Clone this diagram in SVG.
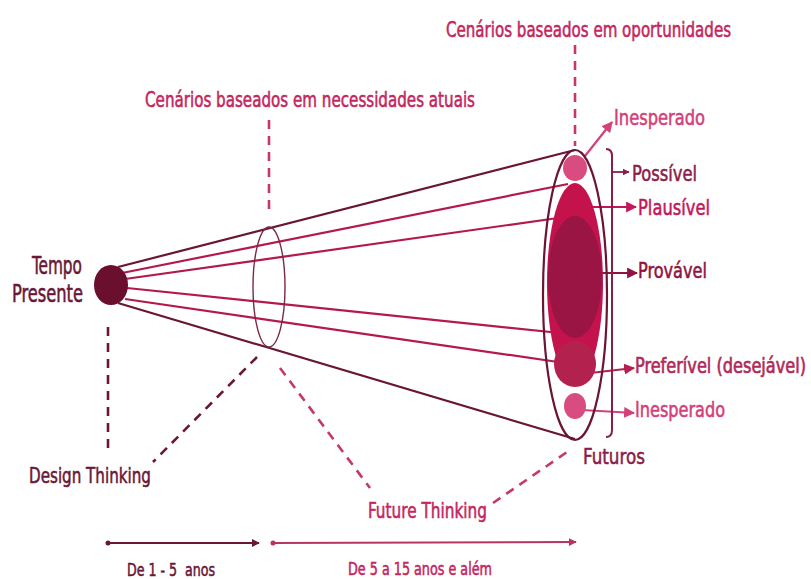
<svg xmlns="http://www.w3.org/2000/svg" width="811" height="579" viewBox="0 0 811 579">
<style>
  text { font-family: "DejaVu Sans Condensed", "DejaVu Sans", "Liberation Sans", sans-serif; font-stretch: condensed; stroke-width: 0.55px; }
  .pink { fill: #c4265e; stroke: #c4265e; }
  .dark { fill: #6a1736; stroke: #6a1736; }
  .mag { fill: #8b1d49; stroke: #8b1d49; }
  .inesp { fill: #d4407a; stroke: #d4407a; }
  .plaus { fill: #c2185b; stroke: #c2185b; }
  .prov { fill: #8e1540; stroke: #8e1540; }
  .pref { fill: #b02a57; stroke: #b02a57; }
  .dash-dark { stroke: #6a1736; stroke-width: 2.6; stroke-dasharray: 9 7; fill: none; }
  .dash-pink { stroke: #c4386a; stroke-width: 2.6; stroke-dasharray: 9 7; fill: none; }
  .cone { stroke: #6b1535; stroke-width: 2.2; fill: none; }
  .ray { stroke: #b3194f; stroke-width: 2.2; fill: none; }
  .f21 { font-size: 21px; }
  .f22 { font-size: 22px; }
  .f18 { font-size: 18px; }
</style>
<defs>
  <marker id="aPink" viewBox="0 0 10 10" refX="9" refY="5" markerWidth="5" markerHeight="5" orient="auto" markerUnits="strokeWidth">
    <path d="M0,0 L10,5 L0,10 z" fill="#d4407a"/>
  </marker>
  <marker id="aRed" viewBox="0 0 10 10" refX="9" refY="5" markerWidth="5" markerHeight="5" orient="auto" markerUnits="strokeWidth">
    <path d="M0,0 L10,5 L0,10 z" fill="#c2185b"/>
  </marker>
  <marker id="aProv" viewBox="0 0 10 10" refX="9" refY="5" markerWidth="5" markerHeight="5" orient="auto" markerUnits="strokeWidth">
    <path d="M0,0 L10,5 L0,10 z" fill="#8e1540"/>
  </marker>
  <marker id="aPref" viewBox="0 0 10 10" refX="9" refY="5" markerWidth="5" markerHeight="5" orient="auto" markerUnits="strokeWidth">
    <path d="M0,0 L10,5 L0,10 z" fill="#b3224f"/>
  </marker>
  <marker id="aMag" viewBox="0 0 10 10" refX="9" refY="5" markerWidth="4" markerHeight="4" orient="auto" markerUnits="strokeWidth">
    <path d="M0,0 L10,5 L0,10 z" fill="#8b1d49"/>
  </marker>
  <marker id="aDark" viewBox="0 0 10 10" refX="9" refY="5" markerWidth="4" markerHeight="4" orient="auto" markerUnits="strokeWidth">
    <path d="M0,0 L10,5 L0,10 z" fill="#6a1736"/>
  </marker>
  <marker id="aTl" viewBox="0 0 10 10" refX="9" refY="5" markerWidth="4" markerHeight="4" orient="auto" markerUnits="strokeWidth">
    <path d="M0,0 L10,5 L0,10 z" fill="#b8345f"/>
  </marker>
</defs>
<rect width="811" height="579" fill="#ffffff"/>

<g id="connectors">
  <!-- cone rays -->
  <line class="cone" x1="118" y1="267" x2="575" y2="150"/>
  <line class="ray" x1="122" y1="273" x2="568" y2="184"/>
  <line class="ray" x1="125" y1="279" x2="558" y2="218"/>
  <line class="ray" x1="127" y1="288" x2="560" y2="333"/>
  <line class="ray" x1="125" y1="299" x2="558" y2="362"/>
  <line class="cone" x1="118" y1="303" x2="575" y2="439"/>
  <!-- dashed leaders -->
  <line class="dash-pink" x1="269" y1="120" x2="269" y2="215"/>
  <line class="dash-pink" x1="575" y1="45" x2="575" y2="146"/>
  <line class="dash-dark" x1="108" y1="327" x2="108" y2="450"/>
  <line class="dash-dark" x1="257" y1="357" x2="153" y2="462"/>
  <line class="dash-pink" x1="280" y1="368" x2="370" y2="488"/>
  <line class="dash-pink" x1="493" y1="503" x2="570" y2="450"/>
  <!-- label arrows -->
  <line x1="585" y1="156" x2="612" y2="122" stroke="#d4407a" stroke-width="2.2" marker-end="url(#aPink)"/>
  <line x1="612" y1="172" x2="629" y2="172" stroke="#8b1d49" stroke-width="1.8" marker-end="url(#aMag)"/>
  <line x1="592" y1="207" x2="636" y2="207" stroke="#c2185b" stroke-width="2.2" marker-end="url(#aRed)"/>
  <line x1="602" y1="273" x2="637" y2="273" stroke="#8e1540" stroke-width="2.2" marker-end="url(#aProv)"/>
  <line x1="590" y1="373" x2="634" y2="368" stroke="#b3224f" stroke-width="2.2" marker-end="url(#aPref)"/>
  <line x1="582" y1="410" x2="634" y2="413" stroke="#d4407a" stroke-width="2.2" marker-end="url(#aPink)"/>
  <!-- timeline -->
  <circle cx="108" cy="543" r="2.5" fill="#6a1736"/>
  <line x1="108" y1="543" x2="259" y2="543" stroke="#6a1736" stroke-width="2" marker-end="url(#aDark)"/>
  <circle cx="273" cy="543" r="2.5" fill="#b8345f"/>
  <line x1="273" y1="543" x2="576" y2="542" stroke="#b8345f" stroke-width="2" marker-end="url(#aTl)"/>
</g>

<g id="presente">
  <ellipse cx="111" cy="285" rx="17" ry="20" fill="#6a0f2e"/>
  <text class="dark" x="82" y="274" font-size="24" text-anchor="end" textLength="50" lengthAdjust="spacingAndGlyphs">Tempo</text>
  <text class="dark" x="83" y="302" font-size="24" text-anchor="end" textLength="71" lengthAdjust="spacingAndGlyphs">Presente</text>
</g>

<g id="anel-atual">
  <ellipse cx="269" cy="287" rx="16" ry="60" fill="none" stroke="#7a2944" stroke-width="1.4"/>
</g>

<g id="futuros">
  <ellipse cx="575" cy="295" rx="32" ry="145" fill="none" stroke="#6b1535" stroke-width="2.2"/>
  <ellipse cx="575" cy="283" rx="28" ry="100" fill="#c3124c"/>
  <ellipse cx="575" cy="364" rx="21" ry="23" fill="#b3224f"/>
  <ellipse cx="575" cy="277" rx="27" ry="61" fill="#9a1444"/>
  <ellipse cx="575" cy="168" rx="12" ry="13" fill="#d94c80"/>
  <ellipse cx="575" cy="406" rx="11" ry="13" fill="#d94c80"/>
  <path d="M606,149 Q612,149 612,156 L612,430 Q612,437 606,437" fill="none" stroke="#8b1d49" stroke-width="2"/>
</g>

<g id="labels-top">
  <text class="pink f21" x="446" y="37" textLength="285" lengthAdjust="spacingAndGlyphs">Cenários baseados em oportunidades</text>
  <text class="pink f21" x="145" y="107" textLength="330" lengthAdjust="spacingAndGlyphs">Cenários baseados em necessidades atuais</text>
</g>

<g id="labels-right">
  <text class="inesp f22" x="614" y="125" textLength="91" lengthAdjust="spacingAndGlyphs">Inesperado</text>
  <text class="mag f22" x="632" y="181" textLength="65" lengthAdjust="spacingAndGlyphs">Possível</text>
  <text class="plaus f22" x="638" y="215" textLength="72" lengthAdjust="spacingAndGlyphs">Plausível</text>
  <text class="prov f22" x="638" y="278" textLength="69" lengthAdjust="spacingAndGlyphs">Provável</text>
  <text class="pref" font-size="18" transform="translate(635,373) scale(1,1.2)" x="0" y="0" textLength="171" lengthAdjust="spacingAndGlyphs">Preferível (desejável)</text>
  <text class="inesp f22" x="635" y="417" textLength="90" lengthAdjust="spacingAndGlyphs">Inesperado</text>
  <text class="mag f22" x="583" y="464" textLength="62" lengthAdjust="spacingAndGlyphs">Futuros</text>
</g>

<g id="labels-bottom">
  <text class="dark f22" x="29" y="483" textLength="122" lengthAdjust="spacingAndGlyphs">Design Thinking</text>
  <text class="pink f22" x="368" y="518" textLength="119" lengthAdjust="spacingAndGlyphs">Future Thinking</text>
  <text class="dark f18" x="127" y="576" textLength="88" lengthAdjust="spacingAndGlyphs" xml:space="preserve">De 1 - 5  anos</text>
  <text class="pink f18" x="348" y="575" textLength="144" lengthAdjust="spacingAndGlyphs">De 5 a 15 anos e além</text>
</g>
</svg>
